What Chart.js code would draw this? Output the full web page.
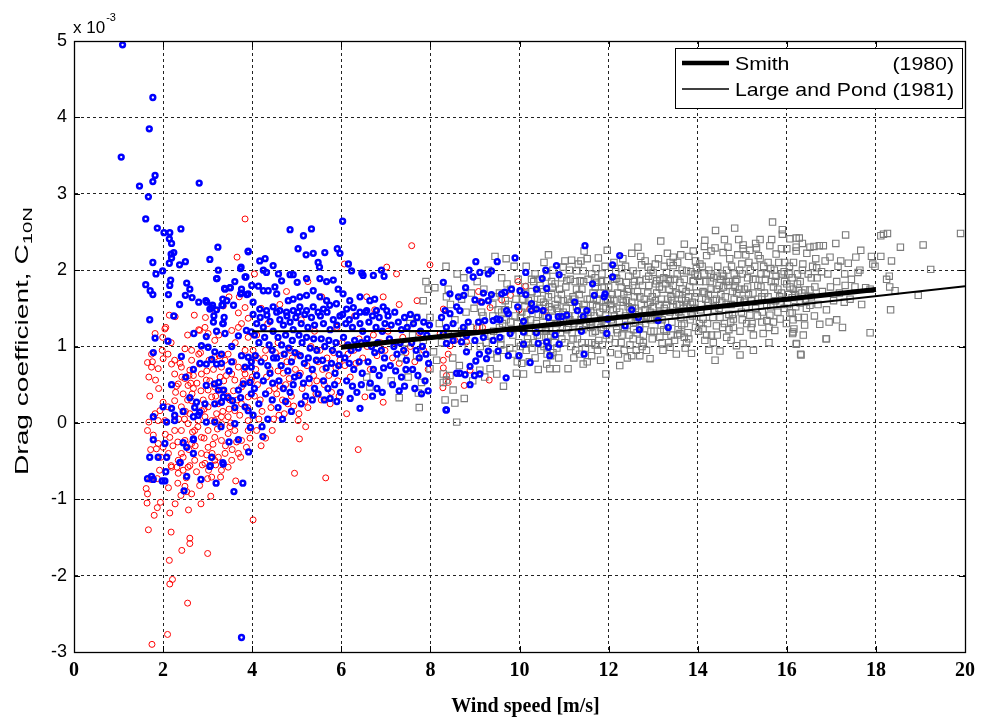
<!DOCTYPE html>
<html>
<head>
<meta charset="utf-8">
<script src="https://cdn.jsdelivr.net/npm/chart.js"></script>
<style>
html, body { margin:0; padding:0; background:#fff; }
#wrap { width:982px; height:721px; }
</style>
</head>
<body>
<div id="wrap"><canvas id="myChart" width="982" height="721"></canvas></div>
<script>
// axis ticks
var xTicks = [0, 2, 4, 6, 8, 10, 12, 14, 16, 18, 20];
var yTicks = [-3, -2, -1, 0, 1, 2, 3, 4, 5];

// reference curves (values in units of 1e-3)
var smithX = [6, 18];
var smithY = [0.99, 1.745];
var lpX = [4, 11, 20];
var lpY = [1.2, 1.205, 1.79];

var legendNames = ['Smith', 'Large and Pond'];
var legendYears = ['(1980)', '(1981)'];

// blue series [wind speed, C10N*1e3]
var bluePts = [
[1.09,4.95],[1.77,4.26],[1.69,3.85],[1.06,3.48],[1.47,3.10],[1.77,3.16],[1.82,3.24],[2.81,3.14],[1.67,2.96],[1.61,2.67],
[1.87,2.55],[2.02,2.49],[2.15,2.49],[2.40,2.54],[2.14,2.41],[2.19,2.35],[3.23,2.30],[2.24,2.23],[2.18,2.21],[2.19,2.16],
[2.14,2.09],[1.77,2.10],[2.37,2.07],[2.50,2.11],[3.05,2.14],[3.91,2.24],[3.74,2.02],[1.99,1.99],[1.84,1.95],[3.21,1.89],
[3.86,1.91],[1.61,1.81],[1.71,1.73],[1.77,1.68],[2.17,1.87],[2.15,1.80],[2.12,1.68],[2.53,1.83],[2.60,1.75],[2.50,1.67],
[2.65,1.64],[2.37,1.55],[2.80,1.58],[2.98,1.58],[3.11,1.54],[3.05,1.49],[3.34,1.62],[3.38,1.76],[3.51,1.77],[3.61,1.85],
[3.76,1.75],[3.74,1.69],[3.88,1.68],[3.32,1.54],[3.14,1.40],[3.37,1.38],[1.70,1.35],[2.24,1.40],[3.34,1.30],[3.13,1.32],
[1.82,1.11],[2.11,1.07],[2.69,1.17],[2.97,1.13],[3.20,1.20],[3.35,1.30],[3.39,1.17],[3.54,1.00],[3.69,1.14],[3.87,1.21],
[3.98,1.19],[2.86,1.01],[3.01,0.99],[3.16,0.93],[3.31,0.90],[3.09,0.83],[2.83,0.78],[2.97,0.77],[3.20,0.77],[3.31,0.78],
[3.54,0.80],[3.76,0.88],[3.91,0.86],[3.98,0.80],[1.78,0.92],[2.41,0.87],[2.68,0.70],[3.48,0.68],[3.84,0.73],[3.98,0.73],
[2.19,0.50],[2.51,0.60],[2.97,0.49],[3.15,0.51],[3.25,0.53],[3.24,0.43],[3.36,0.43],[3.46,0.33],[3.56,0.29],[3.69,0.43],
[3.80,0.51],[3.95,0.53],[3.98,0.38],[2.60,0.33],[2.75,0.27],[2.71,0.20],[2.82,0.14],[2.79,0.10],[2.68,0.08],[2.94,0.25],
[3.16,0.25],[3.31,0.27],[3.35,0.34],[3.61,0.20],[3.74,0.33],[3.84,0.21],[3.91,0.16],[2.00,0.21],[2.19,0.19],[2.45,0.15],
[2.26,0.10],[1.78,0.08],[2.08,0.01],[2.26,0.03],[2.97,0.01],[3.16,0.01],[3.30,-0.05],[3.61,-0.01],[3.96,-0.06],[1.78,-0.22],
[2.04,-0.27],[2.45,-0.26],[2.53,-0.32],[2.68,-0.22],[2.68,-0.40],[3.09,-0.45],[3.06,-0.56],[3.35,-0.54],[3.48,-0.25],[3.69,-0.22],
[3.92,-0.38],[1.70,-0.45],[1.89,-0.45],[2.08,-0.45],[2.38,-0.52],[2.68,-0.21],
[1.65,-0.73],[1.74,-0.70],[1.78,-0.74],[1.98,-0.76],[2.04,-0.76],[2.06,-0.64],[2.38,-0.52],[2.53,-0.70],[2.47,-0.89],[2.85,-0.74],
[3.05,-0.57],[3.19,-0.79],[3.34,-0.52],[3.59,-0.90],[3.79,-0.79],[3.76,-2.81],
[4.85,2.53],[5.15,2.45],[5.33,2.54],[6.03,2.64],[5.03,2.28],[5.21,2.20],[5.37,2.22],[5.63,2.23],[5.48,2.10],[5.51,2.04],
[5.91,2.28],[5.97,2.22],[6.16,2.08],[6.23,1.99],[6.46,1.96],[6.49,1.93],[6.72,1.93],[6.90,2.00],[6.96,1.92],[4.17,2.12],
[4.29,2.15],[4.25,2.00],[4.32,1.97],[4.47,2.06],[4.59,1.95],[4.66,1.86],[4.85,1.94],[4.92,1.94],[5.01,1.84],[5.22,1.89],
[5.52,1.89],[5.67,1.85],[5.82,1.87],[3.99,1.80],[4.14,1.79],[4.25,1.73],[4.36,1.73],[4.51,1.78],[4.55,1.69],[4.81,1.60],
[4.92,1.62],[5.07,1.65],[5.22,1.67],[5.37,1.73],[5.52,1.65],[5.67,1.60],[5.93,1.75],[6.04,1.69],[6.19,1.60],[6.42,1.65],
[6.64,1.60],[6.75,1.62],[6.94,1.52],[3.91,2.25],[3.75,2.04],[3.84,1.91],[3.50,1.77],[3.39,1.75],[3.24,2.00],[3.20,1.89],
[2.96,1.60],[3.09,1.51],[3.20,1.48],[3.34,1.54],[3.43,1.60],[3.58,1.54],[3.76,1.70],[3.91,1.69],[4.02,1.58],[4.17,1.49],
[4.32,1.47],[4.47,1.52],[4.62,1.47],[4.77,1.45],[4.92,1.47],[5.07,1.52],[5.22,1.47],[5.37,1.52],[5.60,1.49],[5.74,1.54],
[5.89,1.56],[6.12,1.49],[6.27,1.51],[6.42,1.45],[6.57,1.47],[6.79,1.47],[7.02,1.47],
[4.02,1.42],[4.10,1.30],[4.18,1.38],[4.25,1.25],[4.33,1.41],[4.40,1.33],[4.47,1.20],[4.05,1.15],[4.15,1.05],[4.28,1.12],
[4.38,1.02],[4.45,0.95],[4.07,0.88],[4.20,0.80],[4.35,0.75],[4.48,0.85],[4.10,0.62],[4.25,0.55],[4.40,0.65],[4.05,0.45],
[4.30,0.38],[4.45,0.30],[4.15,0.25],[4.02,0.10],[4.35,0.05],[4.22,-0.05],[4.46,0.52],[4.24,-0.18],
[4.55,1.45],[4.62,1.35],[4.70,1.28],[4.78,1.40],[4.85,1.32],[4.92,1.22],[4.98,1.38],[4.58,1.12],[4.66,1.02],[4.75,1.15],
[4.82,0.98],[4.90,1.08],[4.96,0.92],[4.55,0.85],[4.65,0.75],[4.72,0.90],[4.80,0.68],[4.88,0.80],[4.95,0.60],[4.60,0.55],
[4.70,0.45],[4.85,0.40],[4.92,0.50],[4.75,0.28],[4.58,0.20],[4.88,0.15],[4.68,0.05],
[5.03,1.45],[5.10,1.30],[5.18,1.42],[5.25,1.25],[5.33,1.38],[5.40,1.28],[5.48,1.45],[5.05,1.15],[5.12,1.05],[5.22,1.12],
[5.30,0.98],[5.38,1.10],[5.45,0.95],[5.08,0.88],[5.17,0.78],[5.26,0.85],[5.35,0.70],[5.44,0.82],[5.05,0.62],[5.15,0.52],
[5.28,0.58],[5.40,0.45],[5.20,0.35],[5.35,0.30],[5.48,0.38],[5.10,0.25],
[5.53,1.40],[5.60,1.30],[5.68,1.45],[5.75,1.22],[5.82,1.35],[5.90,1.28],[5.97,1.40],[5.55,1.10],[5.63,1.00],[5.72,1.08],
[5.80,0.95],[5.88,1.05],[5.95,0.90],[5.58,0.82],[5.66,0.72],[5.78,0.78],[5.86,0.65],[5.94,0.75],[5.60,0.55],[5.70,0.45],
[5.85,0.50],[5.98,0.40],[5.75,0.32],[5.62,0.30],[5.90,0.28],
[6.03,1.42],[6.10,1.30],[6.18,1.35],[6.25,1.25],[6.33,1.40],[6.42,1.30],[6.48,1.20],[6.05,1.12],[6.15,1.02],[6.22,0.95],
[6.30,1.08],[6.38,0.98],[6.45,1.05],[6.08,0.85],[6.18,0.78],[6.28,0.70],[6.40,0.80],[6.47,0.65],[6.12,0.55],[6.25,0.48],
[6.35,0.40],[6.45,0.50],[6.20,0.32],[6.42,0.19],
[6.55,1.45],[6.62,1.32],[6.70,1.40],[6.78,1.25],[6.85,1.38],[6.92,1.20],[6.98,1.30],[6.58,1.10],[6.68,1.00],[6.75,0.92],
[6.82,1.05],[6.90,0.95],[6.97,0.85],[6.60,0.80],[6.72,0.70],[6.85,0.62],[6.95,0.72],[6.65,0.52],[6.80,0.45],[6.92,0.40],[6.70,0.35],
[7.05,1.40],[7.12,1.28],[7.20,1.45],[7.28,1.32],[7.35,1.22],[7.42,1.38],[7.48,1.25],[7.08,1.10],[7.18,1.00],[7.25,0.90],
[7.32,1.05],[7.40,0.95],[7.46,0.82],[7.10,0.75],[7.22,0.68],[7.35,0.60],[7.45,0.70],[7.15,0.50],[7.30,0.42],[7.42,0.48],
[7.55,1.42],[7.62,1.30],[7.70,1.38],[7.78,1.20],[7.85,1.32],[7.92,1.15],[7.98,1.28],[7.58,1.05],[7.68,0.95],[7.75,0.85],
[7.82,1.00],[7.90,0.90],[7.96,0.78],[7.60,0.70],[7.72,0.62],[7.88,0.55],[7.65,0.45],[7.80,0.38],[7.95,0.42],[8.36,0.17],
[11.47,2.32],[12.25,2.19],[12.09,2.07],[9.90,2.16],[9.50,2.11],[9.02,2.11],[9.37,1.99],[9.30,1.95],[9.11,1.97],[8.96,1.91],
[8.87,2.00],[10.14,1.97],[10.59,2.00],[10.83,2.06],[10.89,1.94],[10.51,1.89],[12.09,1.91],[11.64,1.82],[10.61,1.76],[10.38,1.75],
[10.14,1.68],[10.01,1.73],[9.82,1.75],[9.60,1.69],[9.67,1.71],[9.37,1.68],[9.19,1.70],[8.79,1.77],[8.75,1.67],[8.63,1.65],
[8.44,1.69],[8.29,1.84],[9.00,1.61],[9.15,1.58],[9.30,1.60],[8.59,1.52],[8.66,1.47],[8.44,1.43],[8.33,1.47],[9.71,1.47],
[9.75,1.43],[9.96,1.52],[10.27,1.56],[10.27,1.47],[10.38,1.49],[10.53,1.47],[11.24,1.58],[11.30,1.47],[11.51,1.47],[11.68,1.67],
[11.90,1.65],[11.92,1.69],[11.98,1.36],[12.52,1.48],[12.67,1.38],[11.43,1.39],[10.95,1.39],[10.87,1.39],[11.06,1.41],[10.65,1.38],
[10.09,1.33],[9.49,1.36],[9.56,1.35],[9.41,1.34],[9.22,1.34],[9.08,1.32],[8.85,1.32],[8.74,1.25],[8.51,1.30],[8.36,1.25],
[8.25,1.38],[13.11,1.34],[12.37,1.27],[12.69,1.22],[13.34,1.25],[11.96,1.17],[11.39,1.20],[10.80,1.15],[10.38,1.18],[10.09,1.19],
[9.79,1.17],[9.56,1.12],[9.41,1.08],[9.19,1.12],[9.00,1.08],[8.81,1.14],[8.70,1.06],[8.51,1.08],[8.36,1.04],[8.29,1.17],
[10.09,1.03],[10.42,1.04],[10.61,1.06],[10.65,0.99],[10.89,1.03],[10.68,0.88],[11.45,0.90],[9.75,0.88],[9.99,0.88],[10.24,0.79],
[9.52,0.94],[9.30,0.94],[9.10,0.90],[8.81,0.93],[9.26,0.84],[8.89,0.74],[9.02,0.81],[8.66,0.65],[8.59,0.65],[8.78,0.63],
[9.11,0.64],[8.99,0.62],[8.89,0.50],[9.70,0.59],[8.35,0.17]
];

// red series
var redPts = [
[3.84,2.67],[3.66,2.17],[3.48,1.65],[3.71,1.65],[3.16,1.47],[3.35,1.53],[2.70,1.41],[2.95,1.38],[2.14,1.41],[2.27,1.39],
[2.06,1.25],[2.80,1.22],[3.69,1.44],[3.84,1.51],[3.91,1.37],
[1.82,1.17],[2.04,1.23],[1.99,1.12],[1.74,0.90],[1.65,0.79],[1.74,0.73],[1.68,0.60],[1.83,0.56],[1.98,0.95],[2.19,0.77],
[2.26,0.64],[2.41,0.73],[2.49,0.58],[2.34,0.51],[2.60,0.69],[2.64,0.82],[2.82,0.77],[2.80,0.90],[2.86,0.64],[2.97,0.56],
[2.56,0.49],[2.68,0.45],[3.01,0.43],[3.09,0.34],[3.16,0.47],[3.31,0.43],[3.24,0.25],[3.01,0.21],[2.86,0.16],[2.71,0.21],
[2.60,0.12],[2.41,0.21],[2.26,0.29],[2.11,0.21],[2.00,0.27],[1.93,0.16],[1.89,0.03],[1.82,0.12],[1.68,0.01],[1.65,-0.10],
[1.78,-0.16],[1.89,-0.27],[1.85,-0.34],[2.00,-0.32],[2.15,-0.19],[2.26,-0.10],[2.41,-0.10],[2.56,-0.01],[2.71,-0.10],[2.86,-0.19],
[3.01,-0.10],[3.16,-0.19],[3.31,-0.23],[3.46,-0.14],[3.61,-0.10],[3.76,-0.23],[3.87,-0.32],[3.01,-0.32],[2.86,-0.40],[2.71,-0.49],
[2.56,-0.58],[2.41,-0.40],[2.34,-0.49],[2.19,-0.58],[3.24,-0.45],[3.39,-0.40],[3.54,-0.49],[3.69,-0.40],[3.09,0.03],[2.94,0.08],
[2.79,0.03],[2.26,0.08],[2.04,0.03],[3.46,0.08],[3.61,0.16],[3.76,0.25],[3.91,0.34],[3.76,0.47],[3.61,0.56],[3.54,0.64],
[3.39,0.82],[3.46,0.90],[3.16,1.08],[3.01,1.17],[2.94,1.25],[2.82,1.21],[3.54,1.21],[3.69,1.25],[3.76,1.30],[3.91,1.12],
[3.84,0.95],[3.98,0.82],[2.64,0.95],[2.49,0.97],[2.26,0.82],[2.11,0.90],[2.00,0.84],[1.89,0.71],[1.76,0.80],[2.49,-0.23],
[2.64,-0.27],[3.16,0.03],[3.31,0.08],[3.31,-0.01],[3.91,0.03],[3.91,-0.10],[2.64,0.29],[2.45,0.38],[3.31,0.73],[3.16,0.86],
[3.84,0.64],[3.69,0.73],[3.98,0.56],[3.31,-0.62],[3.46,-0.58],
[2.35,0.05],[2.50,0.15],[2.65,0.38],[2.78,-0.05],[2.90,0.30],[3.05,0.55],[3.12,-0.28],[3.20,0.12],[3.28,0.60],[3.40,-0.30],
[3.45,0.35],[3.52,0.00],[3.58,0.42],[3.65,-0.25],[3.72,0.10],[3.80,0.55],[2.45,-0.45],[2.58,-0.35],[2.72,-0.30],[2.88,-0.55],
[3.02,-0.62],[3.18,-0.55],[2.30,0.48],[2.42,0.60],[2.55,0.30],[2.68,0.62],[2.85,0.42],[2.98,0.68],[3.13,0.70],[3.36,0.55],
[3.50,0.30],[2.22,-0.30],[2.12,-0.40],[2.05,-0.15],[1.95,-0.45],[2.33,-0.25],[2.62,0.52],[2.92,-0.20],[3.22,-0.08],[3.48,0.18],
[2.28,0.40],[2.38,0.78],[2.48,0.05],[2.58,0.62],[2.66,-0.12],[2.76,0.52],[2.84,0.92],[2.92,0.18],[3.03,0.82],[3.10,-0.40],
[3.18,0.35],[3.26,0.88],[3.34,0.15],[3.42,0.62],[3.50,-0.05],[3.58,0.80],[3.66,0.30],[3.74,-0.45],[3.82,0.70],[3.90,0.20],
[4.00,0.60],[4.12,0.85],[4.20,-0.30],[4.30,0.95],[4.40,0.70],[4.50,0.45],[4.60,0.10],[4.70,0.65],[4.80,0.25],[4.90,0.85],
[4.45,-0.10],[4.15,0.05],[3.95,-0.20],[3.55,-0.35],[2.98,-0.42],[2.52,-0.72],[2.82,-0.82],[2.40,-0.95],[2.12,-0.85],[1.92,-0.62],
[1.72,-0.35],[1.70,0.35],[1.90,0.45],[2.18,1.05],[2.55,1.15],[3.25,1.15],[3.62,1.05],[4.10,1.15],[4.58,1.05],[5.20,-0.05],
[1.62,-0.86],[1.65,-0.93],[1.64,-1.05],[1.72,-0.74],[1.87,-0.73],[1.94,-1.04],[1.87,-1.11],[1.80,-1.21],[1.67,-1.40],[2.15,-1.18],
[2.27,-1.06],[2.18,-1.43],[2.33,-0.79],[2.49,-0.83],[2.53,-0.90],[2.64,-0.93],[2.57,-1.14],[2.85,-1.06],[3.07,-0.96],[3.00,-0.73],
[3.09,-0.71],[3.29,-0.71],[3.63,-0.76],[2.75,-0.64],[2.94,-0.53],[2.60,-0.56],[2.45,-0.62],[2.18,-0.56],[2.31,-0.58],[2.14,-1.80],
[2.21,-2.05],[2.15,-2.11],[2.60,-1.51],[2.60,-1.58],[2.42,-1.67],[3.00,-1.71],[2.55,-2.36],[2.10,-2.77],[1.75,-2.90],[4.02,-1.27],
[3.16,-0.49],[2.34,-0.66],
[4.02,0.95],[4.08,0.70],[4.12,0.50],[4.18,0.30],[4.22,0.15],[4.28,0.85],[4.32,0.60],[4.38,0.42],[4.42,0.20],[4.48,0.05],
[4.05,0.35],[4.10,-0.10],[4.30,-0.20],[4.52,0.92],[4.58,0.68],[4.63,0.48],[4.68,0.30],[4.72,0.12],[4.78,0.80],[4.83,0.58],
[4.88,0.35],[4.93,0.22],[4.97,0.70],[4.55,0.38],[4.65,0.88],[4.75,0.50],[4.85,0.95],[5.02,0.90],[5.08,0.65],[5.12,0.45],
[5.18,0.28],[5.23,0.75],[5.28,0.52],[5.32,1.00],[5.38,0.62],[5.43,0.38],[5.48,0.80],[5.05,0.12],[5.25,0.20],[5.45,0.55],
[5.03,0.03],[5.06,-0.21],[5.52,0.95],[5.58,0.70],[5.62,0.50],[5.68,0.85],[5.72,0.62],[5.78,0.40],[5.83,0.92],[5.88,0.72],
[5.92,0.55],[5.97,0.82],[5.55,0.30],[5.75,0.25],[5.95,0.35],[6.02,1.05],[6.08,0.75],[6.12,0.12],[6.15,0.90],[6.20,0.60],
[6.28,0.95],[6.33,0.78],[6.40,1.10],[6.48,0.85],[6.53,0.34],[6.58,1.00],[6.65,0.70],[6.72,1.15],[6.80,0.88],[6.88,1.05],
[6.94,0.27],[6.98,0.95],[7.05,1.20],[7.15,0.85],[7.22,1.05],[7.30,0.78],[7.38,1.12],[7.45,0.92],[7.55,1.00],[7.65,0.80],
[7.75,1.18],[7.85,0.95],[7.95,0.70],[5.56,1.65],[6.07,2.08],[6.57,1.65],[6.94,1.65],[7.02,2.04],[7.24,1.95],[7.58,2.32],
[7.99,2.07],[4.77,1.72],[4.35,1.30],[4.62,1.55],[5.10,1.35],[5.40,1.20],[5.90,1.25],[6.30,1.40],[6.75,1.48],[7.30,1.55],
[7.70,1.60],[4.20,1.50],[5.65,-0.72],[4.95,-0.66],[6.38,-0.35],[5.25,1.85],[4.05,1.95],
[9.97,1.85],[10.14,1.79],[9.80,1.67],[9.60,1.61],[9.08,1.72],[9.11,1.59],[9.34,1.51],[9.99,1.48],[10.23,1.49],[10.58,1.46],
[8.29,1.49],[8.22,1.17],[8.55,1.08],[8.44,1.01],[8.74,1.12],[8.81,1.06],[8.40,0.90],[8.29,0.82],[8.29,0.72],[8.36,0.62],
[8.40,0.53],[8.28,0.46],[8.89,0.69],[9.32,0.56],[8.76,0.49],[9.05,1.25],[9.17,1.25]
];

// gray series
var grayPts = [
[6.64,0.47],[6.57,0.60],[7.30,0.33],[7.50,0.60],[7.73,0.39],[7.80,0.53],[7.69,0.88],[7.84,1.08],[7.54,1.30],[7.69,1.38],
[7.84,1.60],[7.95,1.75],[7.99,0.71],[7.99,1.38],[7.12,0.55],[7.35,0.85],[7.60,1.15],[7.90,1.85],[7.75,0.20],[7.45,1.05],
[8.10,1.77],[8.07,0.93],[8.14,0.82],[8.29,0.64],[8.36,0.56],[8.36,1.65],[8.40,1.75],[8.33,0.30],[8.55,0.26],[8.76,0.32],
[8.51,0.43],[8.59,0.01],[8.44,0.62],[8.29,0.53],[8.20,1.30],[8.45,1.55],[8.60,1.95],[8.70,1.20],[8.85,1.00],[8.25,1.05],
[8.50,0.85],[8.65,0.75],[8.80,1.45],[8.92,1.70],[8.35,2.05],[8.55,1.35],[8.95,0.55],[8.40,1.15],[8.75,1.90],[8.90,1.25],
[9.64,0.48],[9.34,0.71],[9.49,0.64],[9.11,0.69],[9.70,2.15],[9.45,2.18],[9.97,1.88],[9.05,1.85],[9.15,1.45],[9.25,1.05],
[9.35,0.90],[9.45,1.65],[9.55,1.25],[9.65,0.95],[9.75,1.55],[9.85,1.15],[9.95,0.80],[9.10,1.25],[9.20,1.75],[9.30,2.00],
[9.40,1.40],[9.50,0.85],[9.60,1.90],[9.70,1.35],[9.80,1.75],[9.90,1.40],[9.98,1.05],[9.22,0.60],[9.58,1.10],[9.88,2.05],
[9.12,1.00],[9.42,1.20],[9.68,1.60],[9.93,0.65],[9.78,0.98],[9.52,1.48],
[9.55,1.70],[9.62,1.30],[9.72,1.82],[9.82,1.22],[9.92,1.62],[10.02,1.38],[10.12,1.52],[10.22,1.25],[10.32,1.85],[10.42,1.42],
[9.58,1.02],[9.85,0.90],[10.05,0.78],[10.28,0.98],[10.45,1.12],[10.48,1.62],[9.68,1.48],[9.95,1.30],
[10.65,2.20],[10.98,2.04],[10.27,1.88],[10.61,1.91],[10.12,1.78],[10.46,1.80],[10.80,1.82],[10.09,0.64],[10.68,0.71],[10.83,0.71],
[10.61,0.77],[10.05,1.45],[10.10,1.20],[10.15,0.95],[10.20,1.60],[10.25,1.35],[10.30,1.05],[10.35,0.85],[10.40,1.70],[10.45,1.50],
[10.50,1.25],[10.55,1.00],[10.60,1.40],[10.65,1.65],[10.70,1.15],[10.75,0.92],[10.80,1.55],[10.85,1.30],[10.90,1.75],[10.95,1.10],
[10.08,1.62],[10.18,1.10],[10.28,1.72],[10.38,1.30],[10.48,0.95],[10.58,1.55],[10.68,1.30],[10.78,1.05],[10.88,1.45],[10.98,1.60],
[10.15,2.05],[10.35,1.95],[10.55,2.10],[10.75,2.00],[10.95,1.90],[10.22,0.80],[10.42,0.70],[10.62,0.90],[10.88,0.85],[10.32,1.55],
[10.52,1.40],[10.72,1.48],[10.92,1.35],[10.12,1.32],[10.40,1.15],[10.60,1.20],[10.82,1.22],[10.02,1.00],
[10.52,1.75],[10.58,1.22],[10.66,1.52],[10.72,1.85],[10.78,1.38],[10.86,1.62],[10.92,1.18],[10.98,1.45],[11.04,1.78],[11.10,1.40],
[11.16,1.58],[11.22,1.30],[11.28,1.52],[11.34,1.68],[11.40,1.05],[11.46,1.40],[10.62,1.05],[10.84,0.98],[11.06,1.22],[11.26,0.95],
[11.44,1.85],[11.02,2.12],[11.38,2.12],[10.72,1.68],
[11.17,2.13],[11.77,2.16],[11.97,2.26],[11.28,1.99],[11.43,1.99],[11.06,1.86],[11.36,1.86],[11.73,1.84],[11.96,1.86],[11.09,0.71],
[11.94,0.64],[11.43,0.77],[11.05,1.50],[11.10,1.25],[11.15,1.00],[11.20,1.65],[11.25,1.40],[11.30,1.10],[11.35,0.90],[11.40,1.75],
[11.45,1.55],[11.50,1.30],[11.55,1.05],[11.60,1.45],[11.65,1.70],[11.70,1.20],[11.75,0.95],[11.80,1.60],[11.85,1.35],[11.90,1.78],
[11.95,1.15],[11.08,1.62],[11.18,1.18],[11.28,1.75],[11.38,1.35],[11.48,0.98],[11.58,1.62],[11.68,1.40],[11.78,1.08],[11.88,1.50],
[11.98,1.62],[11.12,2.00],[11.32,2.08],[11.52,2.15],[11.62,1.95],[11.92,2.05],[11.22,0.85],[11.52,0.80],[11.62,0.88],[11.82,0.82],
[11.33,1.55],[11.53,1.45],[11.73,1.52],[11.93,1.40],[11.13,1.35],[11.42,1.22],[11.60,1.25],[11.83,1.25],[11.02,1.05],[11.70,1.90],
[11.25,1.85],[11.45,2.25],[11.85,1.95],
[11.52,1.62],[11.58,1.32],[11.64,1.55],[11.70,1.78],[11.76,1.30],[11.82,1.70],[11.88,1.22],[11.94,1.52],[12.00,1.78],[12.06,1.35],
[12.12,1.60],[12.18,1.50],[12.24,1.85],[12.30,1.62],[12.36,1.25],[12.42,1.72],[12.48,1.48],[11.62,1.05],[11.86,1.02],[12.04,0.92],
[12.28,1.05],[12.46,1.15],[11.72,2.02],[12.16,1.98],[12.38,2.05],[11.80,1.45],[12.10,1.48],
[12.74,2.07],[12.89,2.04],[12.63,1.95],[12.29,2.02],[12.55,1.99],[12.18,1.89],[12.40,1.84],[12.70,1.86],[12.70,0.88],[12.52,0.88],
[12.93,0.84],[12.05,1.55],[12.10,1.30],[12.15,1.05],[12.20,1.70],[12.25,1.45],[12.30,1.15],[12.35,0.95],[12.40,1.60],[12.45,1.75],
[12.50,1.35],[12.55,1.10],[12.60,1.50],[12.65,1.72],[12.70,1.25],[12.75,1.00],[12.80,1.62],[12.85,1.40],[12.90,1.80],[12.95,1.20],
[12.08,1.68],[12.18,1.22],[12.28,1.78],[12.38,1.40],[12.48,1.02],[12.58,1.65],[12.68,1.45],[12.78,1.15],[12.88,1.55],[12.98,1.65],
[12.12,2.10],[12.32,2.15],[12.52,2.22],[12.82,2.12],[12.95,2.00],[12.22,0.90],[12.42,0.85],[12.62,0.95],[12.85,0.95],[12.33,1.58],
[12.53,1.50],[12.73,1.55],[12.93,1.45],[12.13,1.40],[12.42,1.28],[12.60,1.32],[12.83,1.30],[12.02,1.10],[12.25,0.75],[12.66,2.30],
[12.45,1.92],
[12.52,1.58],[12.58,1.85],[12.64,1.38],[12.70,1.65],[12.76,1.80],[12.82,1.48],[12.88,1.70],[12.94,1.35],[13.00,1.52],[13.06,1.82],
[13.12,1.42],[13.18,1.62],[13.24,1.90],[13.30,1.55],[13.36,1.75],[13.42,1.60],[13.48,1.88],[12.56,1.22],[12.78,1.05],[12.98,1.10],
[13.20,1.05],[13.40,1.15],[12.72,2.18],[13.05,2.08],[13.38,2.10],[12.90,1.92],[13.15,1.88],
[13.17,2.38],[13.70,2.34],[13.90,2.25],[13.45,2.17],[13.45,2.06],[13.00,1.97],[13.30,1.97],[13.75,1.99],[13.97,2.02],[13.08,1.86],
[13.38,1.86],[13.60,1.84],[13.90,1.86],[13.86,0.91],[13.38,0.99],[13.60,1.17],[13.15,1.12],[13.05,1.60],[13.10,1.35],[13.15,1.45],
[13.20,1.75],[13.25,1.50],[13.30,1.20],[13.35,1.05],[13.40,1.65],[13.45,1.80],[13.50,1.40],[13.55,1.15],[13.60,1.55],[13.65,1.75],
[13.70,1.30],[13.75,1.05],[13.80,1.65],[13.85,1.45],[13.90,1.85],[13.95,1.25],[13.08,1.70],[13.18,1.28],[13.28,1.82],[13.38,1.45],
[13.48,1.08],[13.58,1.68],[13.68,1.50],[13.78,1.18],[13.88,1.58],[13.98,1.70],[13.12,2.15],[13.32,2.22],[13.55,2.10],[13.80,2.18],
[13.22,0.95],[13.52,0.90],[13.72,0.98],[13.33,1.62],[13.53,1.55],[13.73,1.60],[13.93,1.50],[13.13,1.55],[13.42,1.32],[13.62,1.38],
[13.83,1.35],[13.02,1.20],[13.65,2.00],[13.25,2.05],
[13.52,1.70],[13.58,1.45],[13.64,1.62],[13.70,1.88],[13.76,1.55],[13.82,1.78],[13.88,1.40],[13.94,1.65],[14.00,1.92],[14.06,1.48],
[14.12,1.72],[14.18,1.85],[14.24,1.58],[14.30,1.75],[14.36,1.90],[14.42,1.62],[14.48,1.80],[13.56,1.22],[13.80,1.10],[14.02,1.20],
[14.22,1.30],[14.44,1.15],[13.62,2.20],[13.95,2.12],[14.30,2.25],[14.10,2.05],[13.85,1.98],
[14.16,2.39],[14.15,2.31],[14.39,2.29],[14.57,2.23],[14.72,2.15],[14.99,2.08],[14.20,2.19],[14.05,2.08],[14.39,0.82],[14.50,0.94],
[14.95,0.89],[14.87,1.01],[14.16,1.08],[14.31,1.15],[14.65,1.12],[14.12,1.23],[14.42,1.27],[14.80,1.25],[14.12,1.36],[14.50,1.38],
[14.80,1.36],[14.08,1.55],[14.15,1.70],[14.22,1.45],[14.28,1.85],[14.35,1.60],[14.42,1.75],[14.48,1.50],[14.55,1.95],[14.62,1.65],
[14.68,1.80],[14.75,1.55],[14.82,1.95],[14.88,1.70],[14.95,1.60],[14.05,1.85],[14.25,2.00],[14.45,2.05],[14.65,2.00],[14.85,1.85],
[14.18,1.62],[14.38,1.48],[14.58,1.78],[14.78,1.72],[14.98,1.45],[14.30,1.95],[14.52,1.88],[14.70,1.42],[14.90,2.20],[14.60,2.40],
[14.35,1.05],[14.75,1.08],[14.95,1.20],[14.25,0.95],[14.60,1.30],[14.40,2.52],[14.83,2.55],
[14.52,1.68],[14.58,1.92],[14.64,1.55],[14.70,1.85],[14.76,2.05],[14.82,1.62],[14.88,1.88],[14.94,1.75],[15.00,1.95],[15.06,1.62],
[15.12,1.78],[15.18,2.00],[15.24,1.70],[15.30,1.88],[15.36,1.62],[15.42,1.78],[15.48,2.05],[14.56,1.25],[14.78,1.42],[15.00,1.35],
[15.22,1.30],[15.44,1.32],[14.68,2.30],[15.08,2.20],[15.30,2.35],[14.92,2.40],
[15.02,2.33],[15.02,2.28],[15.32,2.29],[15.17,2.26],[15.62,2.32],[15.76,2.21],[15.88,2.28],[15.36,2.19],[15.68,2.63],[15.90,2.53],
[15.90,2.47],[15.02,1.04],[15.25,1.15],[15.47,1.17],[15.73,1.21],[15.99,1.30],[15.10,1.30],[15.55,1.34],[15.85,1.36],[15.17,1.41],
[15.62,1.41],[15.05,1.75],[15.12,1.90],[15.20,1.60],[15.28,2.05],[15.35,1.80],[15.42,1.95],[15.50,1.70],[15.58,2.10],[15.65,1.85],
[15.72,2.00],[15.80,1.75],[15.88,1.95],[15.95,1.85],[15.15,2.10],[15.40,2.15],[15.55,1.55],[15.75,1.60],[15.95,2.10],[15.30,1.50],
[15.45,1.45],[15.85,1.55],[15.25,0.95],[15.60,1.05],[15.40,2.40],[15.08,1.50],
[15.52,1.88],[15.58,1.65],[15.64,2.02],[15.70,1.78],[15.76,1.92],[15.82,2.10],[15.88,1.70],[15.94,1.98],[16.00,1.82],[16.06,2.05],
[16.12,1.90],[16.18,1.68],[16.24,1.95],[16.30,1.85],[16.36,2.08],[16.42,1.62],[16.48,1.95],[15.60,1.25],[15.80,1.45],[16.02,1.55],
[16.20,1.52],[16.40,1.28],[15.66,2.40],[16.00,2.28],[16.35,2.35],
[16.07,2.41],[16.21,2.42],[16.28,2.42],[16.21,2.30],[16.21,2.25],[16.45,2.22],[16.52,2.30],[16.61,2.31],[16.73,2.32],[16.82,2.32],
[16.65,2.15],[16.67,2.03],[16.86,2.12],[16.97,2.17],[17.10,2.35],[17.32,2.46],[17.21,2.12],[17.38,2.09],[17.55,2.17],[17.66,2.26],
[17.90,2.18],[17.93,2.08],[17.98,2.05],[17.64,2.00],[17.60,1.97],[17.12,1.85],[17.31,1.80],[17.53,1.78],[17.77,1.77],[17.87,1.75],
[16.63,1.78],[16.52,1.74],[16.41,1.74],[16.26,1.73],[16.15,1.75],[16.07,1.78],[16.12,1.64],[16.30,1.57],[16.89,1.48],[16.52,1.54],
[16.07,1.44],[16.12,1.44],[16.26,1.38],[16.39,1.38],[16.74,1.29],[17.12,1.35],[17.29,1.58],[17.68,1.55],[16.16,1.23],[16.13,1.17],
[16.37,1.15],[16.21,1.03],[16.31,0.90],[16.89,1.10],[17.87,1.18],[16.22,1.04],[16.32,0.89],[16.88,1.10],[16.14,1.19],[16.05,1.95],
[16.35,2.00],[16.55,1.90],[16.15,2.10],
[16.55,1.65],[16.68,1.90],[16.80,1.72],[16.92,1.95],[17.05,1.60],[17.18,1.70],[17.30,1.95],[17.42,1.62],[16.62,1.40],[16.95,1.32],
[17.25,1.25],[17.45,1.88],
[10.04,1.70],[10.16,1.42],[10.26,1.62],[10.36,1.20],[10.44,1.88],[10.54,1.58],[10.64,1.12],[10.74,1.78],[10.84,1.50],[10.94,1.68],
[11.06,1.34],[11.14,1.88],[11.24,1.62],[11.34,1.25],[11.44,1.48],[11.54,1.88],[11.64,1.18],[11.74,1.62],[11.84,1.85],[11.94,1.28],
[12.04,1.62],[12.14,1.88],[12.24,1.32],[12.34,1.68],[12.44,1.52],[12.54,1.80],[12.64,1.18],[12.74,1.40],[12.84,1.88],[12.94,1.58],
[13.04,1.38],[13.14,1.78],[13.24,1.22],[13.34,1.88],[13.44,1.52],[13.54,1.95],[13.64,1.28],[13.74,1.72],[13.84,1.55],[13.94,1.95],
[14.04,1.30],[14.14,1.95],[14.24,1.68],[14.34,1.38],[14.44,1.92],[14.54,1.58],[14.64,1.85],[14.74,1.32],[14.84,1.78],[14.94,2.00],
[15.04,1.58],[15.14,1.68],[15.24,1.88],[15.34,1.40],[15.44,1.65],[15.54,1.95],[15.64,1.52],[15.74,1.85],[15.84,1.65],[15.94,1.50],
[16.04,1.68],[16.14,1.35],[16.24,1.82],[16.34,1.70],[16.44,1.50],[16.58,2.05],[16.70,1.55],[16.78,1.98],[16.98,1.78],[17.15,2.05],
[10.20,1.05],[10.70,0.88],[11.20,1.10],[11.70,1.02],[12.20,1.18],[12.70,1.08],[13.20,1.35],[13.70,1.12],[14.20,1.15],[14.70,1.22],
[15.20,1.25],[15.70,1.32],[9.40,1.55],[9.60,1.45],[9.80,1.32],[9.36,1.15],[9.18,1.40],[8.98,1.50],[8.70,1.62],[8.60,1.10],
[18.11,2.45],[18.17,2.47],[18.26,2.48],[18.55,2.30],[19.06,2.33],[19.90,2.48],[18.35,2.12],[18.11,2.18],[18.30,1.92],[18.24,1.88],
[18.31,1.78],[18.43,1.73],[19.23,2.01],[18.95,1.67],[18.33,1.48]
];

function toXY(arr) {
  return arr.map(function(p) { return { x: p[0], y: p[1] }; });
}
function lineXY(xs, ys) {
  return xs.map(function(v, i) { return { x: v, y: ys[i] }; });
}

var sansFont = '"Liberation Sans", Arial, sans-serif';

// frame, inside tick marks, axis titles and legend
var decorPlugin = {
  id: 'decor',
  afterDatasetsDraw: function(chart) {
    var ctx = chart.ctx, a = chart.chartArea;
    var xs = chart.scales.x, ys = chart.scales.y;
    ctx.save();
    ctx.setLineDash([]);
    ctx.strokeStyle = '#000';
    ctx.lineWidth = 1;
    ctx.beginPath();
    xTicks.forEach(function(v) {
      var px = Math.round(xs.getPixelForValue(v)) + 0.5;
      ctx.moveTo(px, a.bottom); ctx.lineTo(px, a.bottom - 6);
      ctx.moveTo(px, a.top); ctx.lineTo(px, a.top + 6);
    });
    yTicks.forEach(function(v) {
      var py = Math.round(ys.getPixelForValue(v)) + 0.5;
      ctx.moveTo(a.left, py); ctx.lineTo(a.left + 6, py);
      ctx.moveTo(a.right, py); ctx.lineTo(a.right - 6, py);
    });
    ctx.stroke();
    ctx.lineWidth = 1.3;
    ctx.strokeRect(Math.round(a.left) + 0.5, Math.round(a.top) + 0.5, Math.round(a.right - a.left), Math.round(a.bottom - a.top));
    ctx.restore();
  },
  afterDraw: function(chart) {
    var ctx = chart.ctx, a = chart.chartArea;
    ctx.save();
    ctx.fillStyle = '#000';

    // exponent label
    ctx.textBaseline = 'alphabetic';
    ctx.textAlign = 'left';
    ctx.font = '17px ' + sansFont;
    ctx.fillText('x 10', a.left - 1, 33);
    var w10 = ctx.measureText('x 10').width;
    ctx.font = '11px ' + sansFont;
    ctx.fillText('-3', a.left - 1 + w10 + 1, 21);

    // y title with subscript, stretched along its length like the original
    var main = 'Drag coefficient, C', sub = '10N';
    ctx.font = '18px ' + sansFont;
    var wm = ctx.measureText(main).width;
    ctx.font = '13px ' + sansFont;
    var ws = ctx.measureText(sub).width;
    var tot = wm + ws;
    var sy = 268 / tot;
    ctx.save();
    ctx.translate(28, 341);
    ctx.rotate(-Math.PI / 2);
    ctx.scale(sy, 1);
    ctx.font = '18px ' + sansFont;
    ctx.fillText(main, -tot / 2, 0);
    ctx.font = '13px ' + sansFont;
    ctx.fillText(sub, -tot / 2 + wm, 4);
    ctx.restore();

    // x title
    ctx.textAlign = 'center';
    ctx.textBaseline = 'middle';
    ctx.font = 'bold 20px "Liberation Serif", "Times New Roman", serif';
    ctx.fillText('Wind speed [m/s]', (a.left + a.right) / 2 + 6, 707);

    // legend box
    var bx = 675, by = 48, bw = 287, bh = 60;
    ctx.fillStyle = '#fff';
    ctx.fillRect(bx, by, bw, bh);
    ctx.strokeStyle = '#000';
    ctx.lineWidth = 1;
    ctx.strokeRect(bx + 0.5, by + 0.5, bw, bh);
    var rows = [63, 89], widths = [4.5, 1.5];
    ctx.font = '19px ' + sansFont;
    var full = ctx.measureText(legendNames[1] + ' ' + legendYears[1]).width;
    var sx = 219 / full;
    ctx.textBaseline = 'middle';
    for (var i = 0; i < legendNames.length; i++) {
      ctx.beginPath();
      ctx.lineWidth = widths[i];
      ctx.moveTo(682, rows[i]); ctx.lineTo(729, rows[i]);
      ctx.stroke();
      ctx.save();
      ctx.translate(735, rows[i] + 2);
      ctx.scale(sx, 1);
      ctx.fillStyle = '#000';
      ctx.textAlign = 'left';
      ctx.fillText(legendNames[i], 0, 0);
      ctx.textAlign = 'right';
      ctx.fillText(legendYears[i], full, 0);
      ctx.restore();
    }
    ctx.restore();
  }
};

var ctx = document.getElementById('myChart').getContext('2d');
new Chart(ctx, {
  type: 'scatter',
  data: {
    datasets: [
      { label: 'Smith (1980)', data: lineXY(smithX, smithY), showLine: true, borderColor: '#000', borderWidth: 5,
        pointRadius: 0, fill: false },
      { label: 'Large and Pond (1981)', data: lineXY(lpX, lpY), showLine: true, borderColor: '#000', borderWidth: 2,
        pointRadius: 0, fill: false },
      { label: 'blue', data: toXY(bluePts), pointStyle: 'circle', pointRadius: 2.4, borderWidth: 2.5,
        borderColor: '#0000ff', backgroundColor: 'rgba(0,0,0,0)' },
      { label: 'gray', data: toXY(grayPts), pointStyle: 'rect', pointRadius: 4.5, borderWidth: 1.1,
        borderColor: '#7a7a7a', backgroundColor: 'rgba(0,0,0,0)' },
      { label: 'red', data: toXY(redPts), pointStyle: 'circle', pointRadius: 3, borderWidth: 1,
        borderColor: '#ff0000', backgroundColor: 'rgba(0,0,0,0)' }
    ]
  },
  options: {
    responsive: false,
    animation: false,
    devicePixelRatio: 1,
    events: [],
    layout: { padding: { top: 41, right: 17, left: 0, bottom: 0 } },
    plugins: { legend: { display: false }, tooltip: { enabled: false }, title: { display: false } },
    scales: {
      x: {
        type: 'linear', min: 0, max: 20,
        afterFit: function(s) { s.height = 69; },
        afterBuildTicks: function(s) { s.ticks = xTicks.map(function(v) { return { value: v }; }); },
        ticks: { color: '#000', padding: 7, maxRotation: 0,
                 font: { family: '"Liberation Serif", "Times New Roman", serif', weight: 'bold', size: 20 } },
        grid: { color: '#222', lineWidth: 1, drawTicks: false },
        border: { display: true, color: '#000', dash: [3, 3] }
      },
      y: {
        type: 'linear', min: -3, max: 5,
        afterFit: function(s) { s.width = 74; },
        afterBuildTicks: function(s) { s.ticks = yTicks.map(function(v) { return { value: v }; }); },
        ticks: { color: '#000', padding: 7,
                 font: { family: sansFont, size: 18 } },
        grid: { color: '#222', lineWidth: 1, drawTicks: false },
        border: { display: true, color: '#000', dash: [3, 3] }
      }
    }
  },
  plugins: [decorPlugin]
});
</script>
</body>
</html>
